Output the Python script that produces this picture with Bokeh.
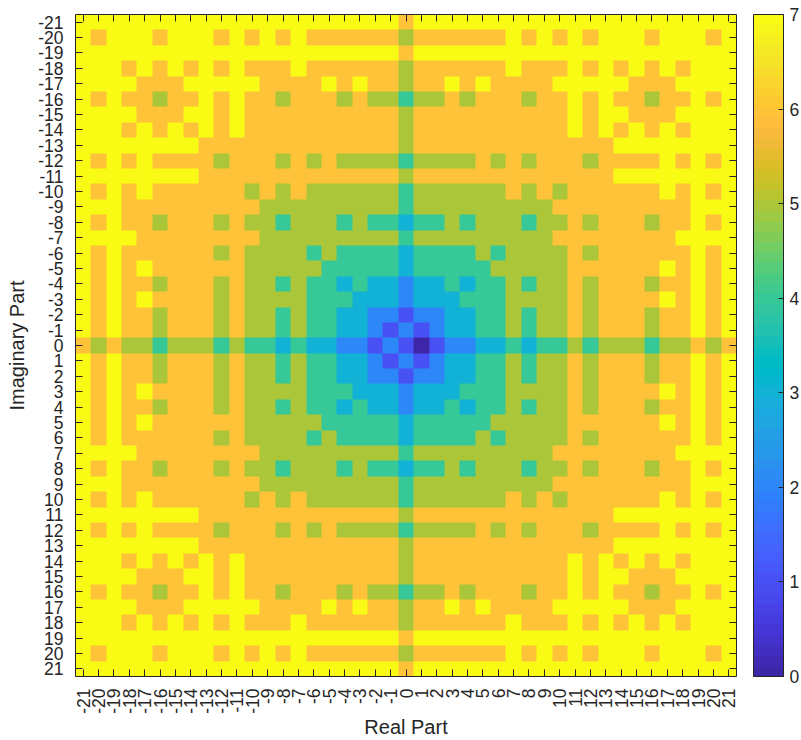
from bokeh.plotting import figure
from bokeh.models import (Range1d, LinearColorMapper, ColorBar, FixedTicker, LinearAxis)
from bokeh.embed import file_html
from bokeh.resources import INLINE
import math
import numpy as np

# rows -21..0, columns -21..0 (the picture mirrors about both axes)
half_rows = [
    "7777777777777777777776",
    "7677767776767676666665",
    "7777777777777777777776",
    "7776767676766676666665",
    "7777666777776666767665",
    "7676656676766566656554",
    "7777666776766666666665",
    "7776767676766666666665",
    "7777777766666666666665",
    "7676766665666565655554",
    "7777777766666666666665",
    "7676766666656565555554",
    "7776666666665555555554",
    "7676656665655455545443",
    "7777666666665555555554",
    "7676666665655554544443",
    "7676766666655555444443",
    "7676656665655454434332",
    "7676766665655554443332",
    "7676656665655454433221",
    "7676656665655454433212",
    "6565545554544343322121",
]
origin_value = 0  # the single darkest cell at real 1, imaginary 0
ticks = list(range(-21, 22))

parula = [
 (0.2422,0.1504,0.6603),(0.2504,0.1650,0.7076),(0.2578,0.1818,0.7511),(0.2647,0.1978,0.7952),
 (0.2706,0.2147,0.8364),(0.2751,0.2342,0.8710),(0.2783,0.2559,0.8991),(0.2803,0.2782,0.9221),
 (0.2813,0.3006,0.9414),(0.2810,0.3228,0.9579),(0.2795,0.3447,0.9717),(0.2760,0.3667,0.9829),
 (0.2699,0.3892,0.9906),(0.2602,0.4123,0.9952),(0.2440,0.4358,0.9988),(0.2206,0.4603,0.9973),
 (0.1963,0.4847,0.9892),(0.1834,0.5074,0.9798),(0.1786,0.5289,0.9682),(0.1764,0.5499,0.9520),
 (0.1687,0.5703,0.9359),(0.1540,0.5902,0.9218),(0.1460,0.6091,0.9079),(0.1380,0.6276,0.8973),
 (0.1248,0.6459,0.8883),(0.1113,0.6635,0.8763),(0.0952,0.6798,0.8598),(0.0689,0.6948,0.8394),
 (0.0297,0.7082,0.8163),(0.0036,0.7203,0.7917),(0.0067,0.7312,0.7660),(0.0433,0.7411,0.7394),
 (0.0964,0.7500,0.7120),(0.1408,0.7584,0.6842),(0.1717,0.7670,0.6554),(0.1938,0.7758,0.6251),
 (0.2161,0.7843,0.5923),(0.2470,0.7918,0.5567),(0.2906,0.7973,0.5188),(0.3406,0.8008,0.4789),
 (0.3909,0.8029,0.4354),(0.4456,0.8024,0.3909),(0.5044,0.7993,0.3480),(0.5616,0.7942,0.3045),
 (0.6174,0.7876,0.2612),(0.6720,0.7793,0.2227),(0.7242,0.7698,0.1910),(0.7738,0.7598,0.1646),
 (0.8203,0.7498,0.1535),(0.8634,0.7406,0.1596),(0.9035,0.7330,0.1774),(0.9393,0.7288,0.2100),
 (0.9728,0.7298,0.2394),(0.9956,0.7434,0.2371),(0.9970,0.7659,0.2199),(0.9952,0.7861,0.1989),
 (0.9892,0.8136,0.1885),(0.9786,0.8386,0.1766),(0.9676,0.8639,0.1643),(0.9610,0.8890,0.1537),
 (0.9597,0.9135,0.1423),(0.9628,0.9373,0.1265),(0.9691,0.9606,0.1064),(0.9769,0.9839,0.0805),
]
palette = ["#%02x%02x%02x" % tuple(round(c * 255) for c in rgb) for rgb in parula]

# full matrix from the quadrant
top_half = [[int(ch) for ch in row] for row in half_rows]
full = []
for row in top_half:
    full.append(row + row[-2::-1])
for row in reversed(top_half[:-1]):
    full.append(row + row[-2::-1])
full[21][22] = origin_value
matrix = np.array(full, dtype=float)

mapper = LinearColorMapper(palette=palette, low=0, high=7)

INK = "#262626"
FS = "17.5px"
FONT = "Liberation Sans"

p = figure(width=801, height=740, output_backend="svg", toolbar_location=None,
           x_range=Range1d(-21.5, 21.5), y_range=Range1d(21.5, -21.5),
           min_border_left=75, min_border_right=65, min_border_top=14, min_border_bottom=64,
           background_fill_color="white", border_fill_color="white", outline_line_color=None)
p.grid.visible = False

p.image(image=[matrix], x=-21.5, y=-21.5, dw=43, dh=43, color_mapper=mapper)

def style(ax, labels=True):
    ax.ticker = FixedTicker(ticks=ticks)
    ax.major_tick_in = 7
    ax.major_tick_out = 0
    ax.minor_tick_line_color = None
    ax.axis_line_color = INK
    ax.major_tick_line_color = INK
    ax.major_label_text_color = INK
    ax.major_label_text_font = FONT
    ax.major_label_text_font_size = FS
    ax.major_label_standoff = 12 if labels else 0
    ax.major_label_overrides = {t: (str(t) if labels else "") for t in ticks}

style(p.xaxis[0])
style(p.yaxis[0])
p.xaxis[0].major_label_orientation = math.pi / 2
p.xaxis[0].axis_label = "Real Part"
p.yaxis[0].axis_label = "Imaginary Part"
for ax in (p.xaxis[0], p.yaxis[0]):
    ax.axis_label_text_font = FONT
    ax.axis_label_text_font_style = "normal"
    ax.axis_label_text_font_size = "20px"
    ax.axis_label_text_color = INK
p.xaxis[0].axis_label_standoff = -1
p.yaxis[0].axis_label_standoff = 7

top = LinearAxis(); style(top, False); p.add_layout(top, "above")
right = LinearAxis(); style(right, False); p.add_layout(right, "right")

cb = ColorBar(color_mapper=mapper, ticker=FixedTicker(ticks=list(range(0, 8))), width=30, height=662,
              location=(678, 0), margin=0, padding=0, major_tick_in=5, major_tick_line_color=INK,
              major_label_text_font=FONT, major_label_text_font_size=FS, major_label_text_color=INK,
              bar_line_color=INK, label_standoff=6, background_fill_color=None, border_line_color=None)
p.add_layout(cb)

open("out.html", "w").write(file_html(p, INLINE))
